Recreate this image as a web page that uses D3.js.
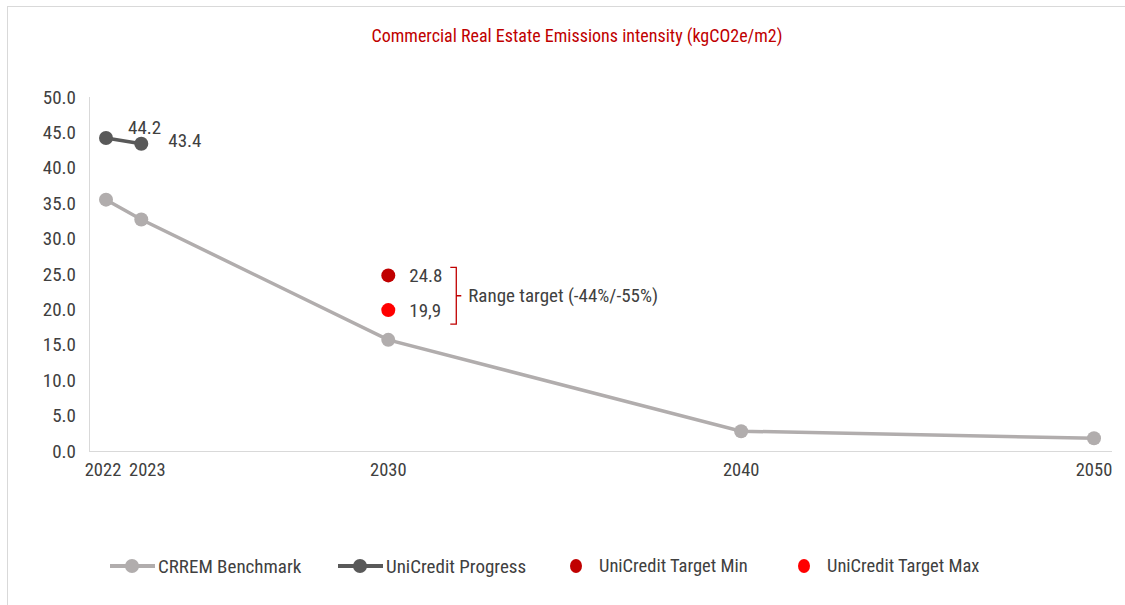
<!DOCTYPE html>
<html>
<head>
<meta charset="utf-8">
<script src="https://cdn.jsdelivr.net/npm/d3@7"></script>
<style>
  html, body { margin: 0; background: #fff; overflow: hidden; }
  svg { display: block; }
  svg text { font-family: "Liberation Sans Narrow", "Arial Narrow", "Roboto Condensed", "Liberation Sans", sans-serif; }
</style>
</head>
<body>
<div id="chart"></div>
<script>
// chart data
const benchYears = [2022, 2023, 2030, 2040, 2050];
const benchValues = [35.5, 32.7, 15.7, 2.8, 1.8];
const progressYears = [2022, 2023];
const progressValues = [44.2, 43.4];
const targetYear = 2030;
const targetMin = 24.8;
const targetMax = 19.9;
const targetLabels = ['24.8', '19,9'];
const yTicks = [0, 5, 10, 15, 20, 25, 30, 35, 40, 45, 50];
const xTicks = [2022, 2023, 2030, 2040, 2050];
const legendNames = ['CRREM Benchmark', 'UniCredit Progress', 'UniCredit Target Min', 'UniCredit Target Max'];

const W = 1125, H = 605;
const colBench = '#b1adad', colProg = '#595959', colMin = '#c00000', colMax = '#ff0000';
const txt = '#404040';

const svg = d3.select('#chart').append('svg')
  .attr('width', W).attr('height', H);

// outer frame (runs off the right and bottom edges)
svg.append('rect')
  .attr('x', 7.5).attr('y', 6.5).attr('width', W + 10).attr('height', H + 10)
  .attr('fill', 'none').attr('stroke', '#d9d9d9');

svg.append('text')
  .attr('x', 577).attr('y', 42).attr('text-anchor', 'middle')
  .attr('fill', '#c00000').attr('font-size', 18)
  .text('Commercial Real Estate Emissions intensity (kgCO2e/m2)');

const x = d3.scaleLinear().domain([2022, 2050]).range([106, 1094]);
const y = d3.scaleLinear().domain([0, 50]).range([451, 97]);

// axis lines
svg.append('line').attr('x1', 89.5).attr('x2', 89.5).attr('y1', y(50)).attr('y2', y(0))
  .attr('stroke', '#d9d9d9');
svg.append('line').attr('x1', 89).attr('x2', 1112).attr('y1', y(0) + 0.5).attr('y2', y(0) + 0.5)
  .attr('stroke', '#d9d9d9');

svg.append('g').selectAll('text').data(yTicks).join('text')
  .attr('x', 76).attr('y', d => y(d)).attr('dy', '0.35em')
  .attr('text-anchor', 'end').attr('font-size', 19).attr('fill', txt)
  .text(d => d.toFixed(1));

// first two year labels are nudged apart so they do not collide
const tickNudge = { 2022: -3, 2023: 6 };
svg.append('g').selectAll('text').data(xTicks).join('text')
  .attr('x', d => x(d) + (tickNudge[d] || 0)).attr('y', y(0) + 25)
  .attr('text-anchor', 'middle').attr('font-size', 18.5).attr('fill', txt)
  .text(d => d);

const line = d3.line().x(d => x(d[0])).y(d => y(d[1]));

// benchmark
const bench = benchYears.map((d, i) => [d, benchValues[i]]);
svg.append('path').datum(bench).attr('d', line)
  .attr('fill', 'none').attr('stroke', colBench).attr('stroke-width', 3.5);
svg.append('g').selectAll('circle').data(bench).join('circle')
  .attr('cx', d => x(d[0])).attr('cy', d => y(d[1])).attr('r', 7).attr('fill', colBench);

// progress
const prog = progressYears.map((d, i) => [d, progressValues[i]]);
svg.append('path').datum(prog).attr('d', line)
  .attr('fill', 'none').attr('stroke', colProg).attr('stroke-width', 3.5);
svg.append('g').selectAll('circle').data(prog).join('circle')
  .attr('cx', d => x(d[0])).attr('cy', d => y(d[1])).attr('r', 7).attr('fill', colProg);
svg.append('text').attr('x', x(2022) + 22).attr('y', y(progressValues[0]) - 4)
  .attr('font-size', 19).attr('fill', txt).text(progressValues[0].toFixed(1));
svg.append('text').attr('x', x(2023) + 27).attr('y', y(progressValues[1]) + 3)
  .attr('font-size', 19).attr('fill', txt).text(progressValues[1].toFixed(1));

// targets
svg.append('circle').attr('cx', x(targetYear)).attr('cy', y(targetMin)).attr('r', 7).attr('fill', colMin);
svg.append('circle').attr('cx', x(targetYear)).attr('cy', y(targetMax)).attr('r', 7).attr('fill', colMax);
svg.append('text').attr('x', x(targetYear) + 21).attr('y', y(targetMin)).attr('dy', '0.35em')
  .attr('font-size', 19).attr('fill', txt).text(targetLabels[0]);
svg.append('text').attr('x', x(targetYear) + 21).attr('y', y(targetMax)).attr('dy', '0.35em')
  .attr('font-size', 19).attr('fill', txt).text(targetLabels[1]);

// bracket
const bx = x(targetYear) + 68;
const bTop = y(targetMin) - 8, bBot = y(targetMax) + 14, bMid = (bTop + bBot) / 2;
svg.append('path')
  .attr('d', `M${bx - 6},${bTop} H${bx} V${bBot} H${bx - 6} M${bx},${bMid} H${bx + 5}`)
  .attr('fill', 'none').attr('stroke', '#c00000').attr('stroke-width', 1.3);
svg.append('text').attr('x', bx + 12).attr('y', bMid).attr('dy', '0.35em')
  .attr('font-size', 19).attr('fill', txt).text('Range target (-44%/-55%)');

// legend
const legY = 566;
const legX = [110, 338, 576, 804];
const leg = svg.append('g');
[0, 1].forEach(i => {
  const c = i === 0 ? colBench : colProg;
  leg.append('line').attr('x1', legX[i]).attr('x2', legX[i] + 45).attr('y1', legY).attr('y2', legY)
    .attr('stroke', c).attr('stroke-width', 4);
  leg.append('circle').attr('cx', legX[i] + 22).attr('cy', legY).attr('r', 7).attr('fill', c);
  leg.append('text').attr('x', legX[i] + 48).attr('y', legY).attr('dy', '0.35em')
    .attr('font-size', 19).attr('fill', txt).text(legendNames[i]);
});
[2, 3].forEach(i => {
  const c = i === 2 ? colMin : colMax;
  leg.append('ellipse').attr('cx', legX[i]).attr('cy', legY).attr('rx', 6).attr('ry', 7).attr('fill', c);
  leg.append('text').attr('x', legX[i] + 23).attr('y', legY).attr('dy', '0.35em')
    .attr('font-size', 18.5).attr('fill', txt).text(legendNames[i]);
});
</script>
</body>
</html>
